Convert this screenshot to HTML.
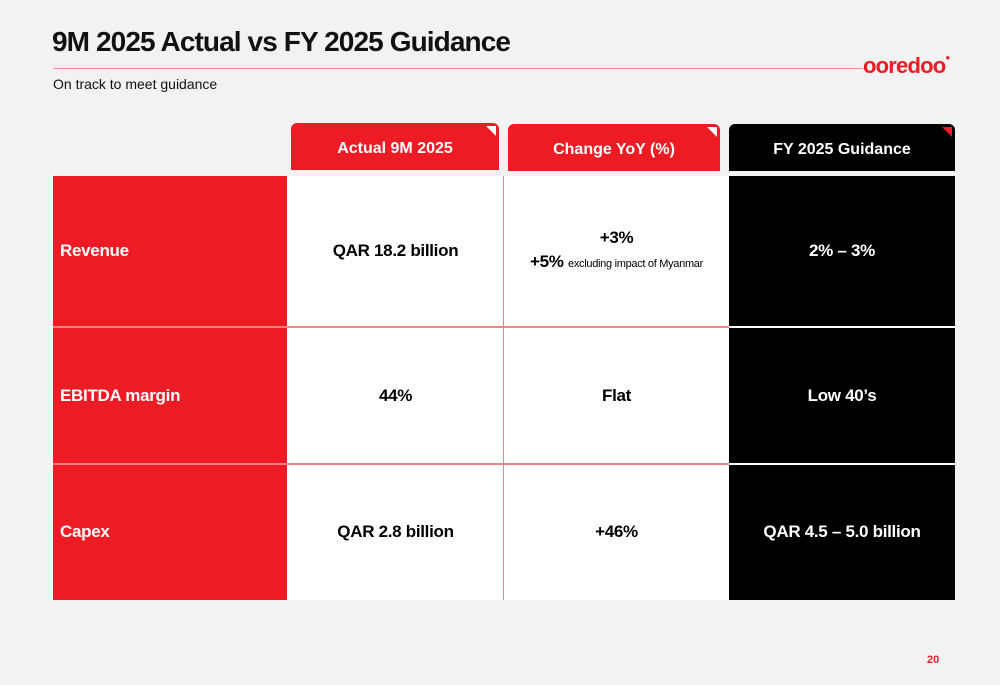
<!DOCTYPE html>
<html><head><meta charset="utf-8"><style>
*{margin:0;padding:0;box-sizing:border-box}
body{width:1000px;height:685px;background:#f2f2f2;font-family:"Liberation Sans",sans-serif;position:relative;overflow:hidden}
.a{position:absolute}
.c{position:absolute;display:flex;align-items:center;font-weight:bold;font-size:17px;letter-spacing:-0.3px}
.ctr{justify-content:center;text-align:center}
.tab{position:absolute;border-radius:6px 6px 0 0;color:#fff;display:flex;align-items:center;justify-content:center;font-weight:bold;font-size:16px;padding-top:5px}
.tri{position:absolute;right:3px;top:3px;width:0;height:0;border-left:10px solid transparent;border-top:10px solid #fff}
</style></head><body>
<div class="a" style="left:52px;top:26px;font-size:28px;font-weight:bold;color:#111;letter-spacing:-0.9px">9M 2025 Actual vs FY 2025 Guidance</div>
<div class="a" style="left:53px;top:68px;width:810px;height:1px;background:#f38a8e"></div>
<div class="a" style="left:863px;top:53px;font-size:22px;color:#ed1c24;letter-spacing:-0.8px;font-weight:bold">ooredoo<span style="font-size:8px;vertical-align:top">●</span></div>
<div class="a" style="left:53px;top:76px;font-size:14px;color:#111">On track to meet guidance</div>

<div class="tab" style="left:291px;top:123px;width:208px;height:47px;background:#ed1c24">Actual 9M 2025<div class="tri"></div></div>
<div class="tab" style="left:508px;top:124px;width:212px;height:47px;background:#ed1c24">Change YoY (%)<div class="tri"></div></div>
<div class="tab" style="left:729px;top:124px;width:226px;height:47px;background:#000">FY 2025 Guidance<div class="tri" style="border-top-color:#ed1c24"></div></div>

<div class="a" style="left:53px;top:176px;width:902px;height:424px;background:#fff"></div>
<div class="a" style="left:53px;top:176px;width:234px;height:424px;background:#ed1c24"></div>
<div class="a" style="left:729px;top:176px;width:226px;height:424px;background:#000"></div>
<div class="a" style="left:503px;top:176px;width:1px;height:424px;background:#f47f84"></div>
<div class="a" style="left:53px;top:326px;width:902px;height:2px;background:#f58286"></div>
<div class="a" style="left:53px;top:463px;width:902px;height:2px;background:#f58286"></div>
<div class="a" style="left:729px;top:326px;width:226px;height:2px;background:#fff"></div>
<div class="a" style="left:729px;top:463px;width:226px;height:2px;background:#fff"></div>

<div class="c" style="left:60px;top:176px;height:150px;color:#fff">Revenue</div>
<div class="c ctr" style="left:287px;top:176px;width:217px;height:150px">QAR 18.2 billion</div>
<div class="c ctr" style="left:504px;top:176px;width:225px;height:150px;flex-direction:column;justify-content:center;line-height:24px">+3%<div>+5% <span style="font-size:11px;font-weight:normal">excluding impact of Myanmar</span></div></div>
<div class="c ctr" style="left:729px;top:176px;width:226px;height:150px;color:#fff">2% – 3%</div>

<div class="c" style="left:60px;top:327px;height:137px;color:#fff">EBITDA margin</div>
<div class="c ctr" style="left:287px;top:327px;width:217px;height:137px">44%</div>
<div class="c ctr" style="left:504px;top:327px;width:225px;height:137px">Flat</div>
<div class="c ctr" style="left:729px;top:327px;width:226px;height:137px;color:#fff">Low 40’s</div>

<div class="c" style="left:60px;top:464px;height:136px;color:#fff">Capex</div>
<div class="c ctr" style="left:287px;top:464px;width:217px;height:136px">QAR 2.8 billion</div>
<div class="c ctr" style="left:504px;top:464px;width:225px;height:136px">+46%</div>
<div class="c ctr" style="left:729px;top:464px;width:226px;height:136px;color:#fff">QAR 4.5 – 5.0 billion</div>

<div class="a" style="left:927px;top:654px;font-size:11px;font-weight:bold;color:#ed1c24">20</div>
</body></html>
